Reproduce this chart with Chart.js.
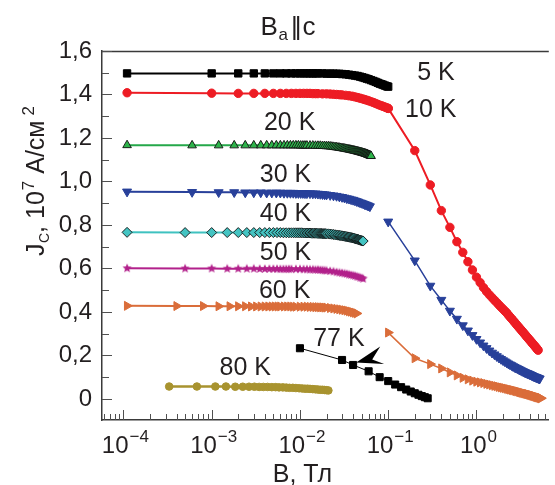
<!DOCTYPE html>
<html><head><meta charset="utf-8">
<script src="https://cdn.jsdelivr.net/npm/chart.js@4.4.1/dist/chart.umd.min.js"></script>
<style>html,body{margin:0;padding:0;background:#fff;}</style>
</head><body>
<canvas id="c" width="555" height="485"></canvas>
<script>
const FONT = '"Liberation Sans", Arial, Helvetica, sans-serif';
const INK = '#231f20';

// ---- axis tick labels ----
const xTickExponents = [-4, -3, -2, -1, 0];
const yTickValues = [0, 0.2, 0.4, 0.6, 0.8, 1.0, 1.2, 1.4, 1.6];
const yTickLabels = ['0', '0,2', '0,4', '0,6', '0,8', '1,0', '1,2', '1,4', '1,6'];

// ---- low-field data (B in T, Jc in 10^7 A/cm^2) ----
const B_5_10 = [0.00011,0.001,0.002,0.003,0.004,0.005,0.006,0.007,0.008,0.009,0.010,0.011,0.012,0.013,0.014,0.015,0.016,0.018,0.020,0.022,0.024,0.026,0.028,0.030,0.033,0.036,0.039,0.042,0.045,0.048,0.051,0.054,0.057,0.060,0.064,0.068,0.072,0.076,0.080,0.084,0.088,0.092,0.096,0.100];
const J_5K = [1.497,1.497,1.497,1.497,1.497,1.497,1.497,1.497,1.497,1.497,1.497,1.497,1.497,1.497,1.497,1.497,1.497,1.497,1.496,1.496,1.496,1.495,1.495,1.494,1.493,1.491,1.489,1.487,1.485,1.482,1.479,1.476,1.473,1.470,1.466,1.462,1.458,1.454,1.450,1.447,1.444,1.441,1.438,1.436];
const J_10K = [1.408,1.406,1.405,1.405,1.405,1.405,1.405,1.405,1.405,1.405,1.405,1.405,1.405,1.405,1.404,1.404,1.404,1.403,1.403,1.402,1.401,1.400,1.399,1.398,1.396,1.394,1.392,1.389,1.386,1.383,1.380,1.377,1.374,1.371,1.367,1.363,1.359,1.355,1.351,1.348,1.345,1.342,1.339,1.336];

const B_20 = [0.00011,0.0006,0.0012,0.0018,0.0024,0.0030,0.0036,0.0042,0.0048,0.0054,0.0060,0.0066,0.0072,0.0078,0.0084,0.0090,0.0096,0.0102,0.0108,0.0114,0.0120,
  0.013,0.014,0.015,0.016,0.017,0.018,0.019,0.020,0.021,0.022,0.023,0.024,0.025,0.026,0.027,0.028,0.029,0.030,0.031,0.032,0.033,0.034,0.035,0.036,0.037,0.038,0.039,0.040,
  0.041,0.042,0.043,0.044,0.045,0.046,0.047,0.048,0.049,0.050,0.051,0.052,0.053,0.054,0.055,0.056,0.057,0.058,0.059,0.060,0.061,0.062,0.063,0.064];
const J_20K = [1.167,1.166,1.166,1.166,1.166,1.166,1.166,1.166,1.166,1.166,1.166,1.166,1.166,1.166,1.166,1.166,1.166,1.165,1.165,1.165,1.165,
  1.165,1.165,1.164,1.164,1.164,1.163,1.163,1.162,1.162,1.161,1.160,1.159,1.158,1.157,1.156,1.155,1.154,1.153,1.152,1.151,1.150,1.149,1.148,1.147,1.146,1.145,1.144,1.143,
  1.142,1.141,1.140,1.139,1.138,1.137,1.136,1.135,1.134,1.133,1.132,1.131,1.130,1.129,1.128,1.127,1.126,1.125,1.123,1.122,1.121,1.120,1.118,1.117];

const B_30 = [0.00011,0.0006,0.0012,0.0018,0.0024,0.0030,0.0036,0.0042,0.0048,0.0054,0.0060,0.0066,0.0072,0.0078,0.0084,0.0090,0.0096,0.0102,0.0108,0.0114,0.0120,0.013,0.014,0.015,0.016,0.017,0.018,0.019,0.020,0.022,0.024,0.026,0.028,0.030,0.032,0.034,0.036,0.038,0.040,0.042,0.044,0.046,0.048,0.050,0.052,0.054,0.056,0.058,0.060,0.062];
const J_30K = [0.953,0.951,0.950,0.950,0.949,0.949,0.949,0.948,0.948,0.948,0.948,0.947,0.947,0.947,0.947,0.946,0.946,0.946,0.946,0.945,0.945,0.945,0.944,0.944,0.943,0.942,0.941,0.940,0.939,0.937,0.935,0.933,0.930,0.928,0.925,0.922,0.920,0.917,0.915,0.912,0.909,0.906,0.903,0.901,0.898,0.895,0.893,0.890,0.888,0.885];

const B_40 = [0.00011,
  0.0005,0.0010,0.0015,0.0020,0.0025,0.0030,0.0035,0.0040,0.0045,0.0050,
  0.0055,0.0060,0.0065,0.0070,0.0075,0.0080,0.0085,0.0090,0.0095,0.0100,
  0.0105,0.0110,0.0115,0.0120,0.0125,0.0130,0.0135,0.0140,0.0145,0.0150,
  0.0155,0.0160,0.0165,0.0170,0.0175,0.0180,0.0185,0.0190,0.0195,0.0200,
  0.021,0.022,0.023,0.024,0.025,0.026,0.027,0.028,0.029,0.030,
  0.031,0.032,0.033,0.034,0.035,0.036,0.037,0.038,0.039,0.040,
  0.041,0.042,0.043,0.044,0.045,0.046,0.047,0.048,0.049,0.050,0.051,0.052];
const J_40K = [0.766,
  0.765,0.765,0.765,0.765,0.765,0.765,0.765,0.765,0.765,0.765,
  0.765,0.765,0.764,0.764,0.764,0.764,0.764,0.764,0.764,0.764,
  0.764,0.763,0.763,0.763,0.763,0.763,0.762,0.762,0.762,0.762,
  0.762,0.761,0.761,0.761,0.761,0.760,0.760,0.760,0.760,0.759,
  0.759,0.758,0.757,0.756,0.755,0.754,0.753,0.752,0.751,0.750,
  0.749,0.748,0.747,0.746,0.745,0.744,0.743,0.742,0.741,0.740,
  0.739,0.737,0.736,0.735,0.734,0.733,0.731,0.730,0.729,0.728,0.727,0.726];

const B_50 = [0.00011,0.0005,0.0010,0.0015,0.0020,0.0025,0.0030,0.0035,0.0040,0.0045,0.0050,0.0055,0.0060,0.0065,0.0070,0.0075,0.0080,0.009,0.010,0.011,0.012,0.013,0.014,0.015,0.016,0.017,0.018,0.019,0.020,0.022,0.024,0.026,0.028,0.030,0.032,0.034,0.036,0.038,0.040,0.042,0.044,0.046,0.048,0.050,0.052];
const J_50K = [0.601,0.600,0.600,0.599,0.599,0.599,0.599,0.598,0.598,0.598,0.598,0.598,0.597,0.597,0.597,0.597,0.597,0.597,0.597,0.596,0.596,0.595,0.595,0.594,0.594,0.593,0.592,0.591,0.590,0.588,0.586,0.583,0.581,0.579,0.577,0.575,0.572,0.570,0.568,0.566,0.563,0.561,0.558,0.556,0.553];

const B_60 = [0.00011,0.0004,0.0008,0.0012,0.0016,0.0020,0.0024,0.0028,0.0032,0.0036,0.0040,0.0044,0.0048,0.0052,0.0056,0.0060,0.0066,0.0072,0.0078,0.0084,0.0090,0.010,0.011,0.012,0.013,0.014,0.015,0.016,0.017,0.018,0.019,0.020,0.022,0.024,0.026,0.028,0.030,0.032,0.034,0.036,0.038,0.040,0.042,0.044];
const J_60K = [0.428,0.427,0.427,0.426,0.426,0.426,0.426,0.425,0.425,0.425,0.425,0.425,0.425,0.425,0.425,0.425,0.425,0.425,0.425,0.424,0.424,0.424,0.424,0.424,0.423,0.423,0.422,0.422,0.421,0.421,0.420,0.420,0.418,0.416,0.414,0.412,0.410,0.408,0.406,0.403,0.401,0.398,0.396,0.393];

const B_77 = [0.01,0.03,0.04,0.06,0.08,0.10,0.12,0.14,0.16,0.18,0.20,0.22,0.24,0.26,0.28];
const J_77K = [0.233,0.179,0.156,0.127,0.100,0.082,0.066,0.054,0.043,0.034,0.026,0.019,0.013,0.008,0.003];

const B_80 = [0.00033,0.00068,0.0011,0.00145,0.00185,0.00225,0.00265,0.00305,0.00345,0.00385,0.0043,0.0048,0.0053,0.0058,0.0064,0.0070,0.0076,0.0083,0.0090,0.0098,0.0106,0.0114,0.0122,0.0130,0.0140,0.0150,0.0160,0.0170,0.0180,0.0190,0.0200,0.0210];
const J_80K = [0.057,0.057,0.057,0.057,0.056,0.056,0.056,0.056,0.055,0.055,0.055,0.054,0.054,0.053,0.053,0.052,0.051,0.051,0.050,0.049,0.048,0.047,0.047,0.046,0.045,0.044,0.043,0.042,0.042,0.041,0.040,0.039];

// ---- high-field data ----
const B_hf = [0.1,0.2,0.3,0.4,0.5,0.6,0.7,0.8,0.9,1.0,1.1,1.2,1.3,1.4,1.5,1.6,1.7,1.8,1.9,2.0,
  2.1,2.2,2.3,2.4,2.5,2.6,2.7,2.8,2.9,3.0,3.1,3.2,3.3,3.4,3.5,3.6,3.7,3.8,3.9,4.0,
  4.1,4.2,4.3,4.4,4.5,4.6,4.7,4.8,4.9,5.0,5.1,5.2,5.3,5.4];
const J_10K_hf = [1.336,1.142,0.984,0.866,0.789,0.723,0.674,0.631,0.593,0.560,0.535,0.512,0.494,0.479,0.466,0.454,0.443,0.432,0.422,0.413,
  0.404,0.396,0.386,0.377,0.369,0.361,0.353,0.345,0.338,0.331,0.324,0.318,0.311,0.305,0.299,0.293,0.287,0.282,0.276,0.271,
  0.266,0.261,0.256,0.251,0.246,0.242,0.237,0.233,0.228,0.224];
const J_30K_hf = [0.815,0.636,0.520,0.455,0.405,0.368,0.338,0.314,0.293,0.275,0.259,0.245,0.233,0.222,0.212,0.204,0.196,0.189,0.183,0.177,
  0.172,0.167,0.162,0.158,0.154,0.150,0.146,0.143,0.140,0.137,0.134,0.131,0.128,0.126,0.123,0.121,0.119,0.117,0.115,0.113,
  0.111,0.109,0.107,0.105,0.103,0.102,0.100,0.099,0.097,0.096,0.094,0.093];
const J_60K_hf = [0.305,0.187,0.160,0.140,0.122,0.108,0.097,0.090,0.084,0.079,0.076,0.073,0.069,0.066,0.063,0.060,0.058,0.055,0.053,0.051,
  0.049,0.047,0.045,0.043,0.041,0.040,0.038,0.036,0.035,0.033,0.031,0.030,0.028,0.027,0.025,0.024,0.023,0.022,0.020,0.019,
  0.018,0.017,0.015,0.014,0.013,0.012,0.010,0.009,0.008,0.007,0.006,0.005,0.004,0.003];

// ---- curve labels (anchored in data coordinates) ----
const curveLabels = ['5 K', '10 K', '20 K', '30 K', '40 K', '50 K', '60 K', '77 K', '80 K'];
const curveLabelB = [0.348, 0.304, 0.00764, 0.00685, 0.00685, 0.00685, 0.00671, 0.0276, 0.0024];
const curveLabelJ = [1.501, 1.333, 1.271, 1.034, 0.854, 0.677, 0.501, 0.2805, 0.147];
const arrowTip = {B: 0.0434, J: 0.167};

// ---- helpers ----
function pts(B, J) { return J.map((y, i) => ({x: B[i], y: y})); }
function starCanvas(color, r) {
  const s = Math.ceil(r * 2 + 2), c = document.createElement('canvas');
  c.width = s; c.height = s;
  const g = c.getContext('2d');
  g.fillStyle = color; g.beginPath();
  for (let i = 0; i < 10; i++) {
    const rr = i % 2 === 0 ? r : r * 0.45, a = -Math.PI / 2 + i * Math.PI / 5;
    g.lineTo(s / 2 + rr * Math.cos(a), s / 2 + rr * Math.sin(a));
  }
  g.closePath(); g.fill();
  return c;
}

const C_RED = '#ed1c24', C_GREEN = '#25a84a', C_BLUE = '#28409a', C_CYAN = '#3fc2c0',
      C_MAG = '#b2218b', C_ORANGE = '#da6d3a', C_OLIVE = '#a8932f';

function ds(label, data, o) {
  return Object.assign({label, data, showLine: true, tension: 0, pointHoverRadius: 0, borderWidth: 2, pointBorderWidth: 1}, o);
}

const datasets = [
  ds('5 K', pts(B_5_10, J_5K), {borderColor: '#000', pointStyle: 'rect', pointRadius: 5.2, pointBackgroundColor: '#000', pointBorderColor: '#000'}),
  ds('10 K', pts(B_5_10, J_10K), {borderColor: C_RED, pointStyle: 'circle', pointRadius: 4.2, pointBackgroundColor: C_RED, pointBorderColor: C_RED}),
  ds('10 K hf', pts(B_hf, J_10K_hf), {borderColor: C_RED, pointStyle: 'circle', pointRadius: 4.2, pointBackgroundColor: C_RED, pointBorderColor: C_RED}),
  ds('20 K', pts(B_20, J_20K), {borderColor: C_GREEN, pointStyle: 'triangle', pointRadius: 5, pointBackgroundColor: '#2db34a', pointBorderColor: '#111', pointBorderWidth: 0.9}),
  ds('30 K', pts(B_30, J_30K), {borderColor: C_BLUE, pointStyle: 'triangle', rotation: 180, pointRadius: 5.2, pointBackgroundColor: C_BLUE, pointBorderColor: C_BLUE}),
  ds('30 K hf', pts(B_hf, J_30K_hf), {borderColor: C_BLUE, borderWidth: 1.5, pointStyle: 'triangle', rotation: 180, pointRadius: 5.2, pointBackgroundColor: C_BLUE, pointBorderColor: C_BLUE}),
  ds('40 K', pts(B_40, J_40K), {borderColor: C_CYAN, pointStyle: 'rectRot', pointRadius: 5, pointBackgroundColor: '#44c4c2', pointBorderColor: '#111', pointBorderWidth: 0.9}),
  ds('50 K', pts(B_50, J_50K), {borderColor: C_MAG, pointStyle: starCanvas(C_MAG, 4.8), pointRadius: 4.8}),
  ds('60 K', pts(B_60, J_60K), {borderColor: C_ORANGE, pointStyle: 'triangle', rotation: 90, pointRadius: 5.2, pointBackgroundColor: C_ORANGE, pointBorderColor: C_ORANGE}),
  ds('60 K hf', pts(B_hf, J_60K_hf), {borderColor: C_ORANGE, borderWidth: 1.5, pointStyle: 'triangle', rotation: 90, pointRadius: 5.2, pointBackgroundColor: C_ORANGE, pointBorderColor: C_ORANGE}),
  ds('77 K', pts(B_77, J_77K), {borderColor: '#000', borderWidth: 1, pointStyle: 'rect', pointRadius: 5, pointBackgroundColor: '#000', pointBorderColor: '#000'}),
  ds('80 K', pts(B_80, J_80K), {borderColor: C_OLIVE, borderWidth: 2.5, pointStyle: 'circle', pointRadius: 3.8, pointBackgroundColor: C_OLIVE, pointBorderColor: C_OLIVE})
];

function drawRuns(ctx, list, x, y, align) {
  let total = 0; const w = [];
  list.forEach(r => { ctx.font = r[1] + 'px ' + FONT; const m = ctx.measureText(r[0]).width; w.push(m); total += m + (r[3] || 0); });
  let cx = align === 'center' ? x - total / 2 : x;
  ctx.textAlign = 'left'; ctx.textBaseline = 'alphabetic';
  list.forEach((r, i) => { cx += (r[3] || 0); ctx.font = r[1] + 'px ' + FONT; ctx.fillText(r[0], cx, y + r[2]); cx += w[i]; });
}

const decor = {
  id: 'decor',
  afterDatasetsDraw(chart) {
    const ctx = chart.ctx, a = chart.chartArea, xs = chart.scales.x, ys = chart.scales.y;
    const seg = (x1, y1, x2, y2) => { ctx.beginPath(); ctx.moveTo(x1, y1); ctx.lineTo(x2, y2); ctx.stroke(); };
    ctx.save();
    ctx.strokeStyle = '#3a3a3a'; ctx.lineWidth = 1.5;
    seg(a.left, a.top + 0.5, a.right, a.top + 0.5);
    ctx.strokeStyle = '#505050'; ctx.lineWidth = 1;
    for (let i = 0; i < yTickValues.length; i++) {
      const py = Math.round(ys.getPixelForValue(yTickValues[i])) + 0.5;
      seg(a.left, py, a.left + 10, py);
      if (i < yTickValues.length - 1) {
        const pm = Math.round(ys.getPixelForValue((yTickValues[i] + yTickValues[i + 1]) / 2)) + 0.5;
        seg(a.left, pm, a.left + 7, pm);
      }
    }
    const e0 = Math.floor(Math.log10(xs.min)), e1 = Math.ceil(Math.log10(xs.max));
    for (let e = e0; e <= e1; e++) for (let k = 1; k < 10; k++) {
      const v = k * Math.pow(10, e);
      if (v < xs.min || v > xs.max) continue;
      const px = Math.round(xs.getPixelForValue(v)) + 0.5;
      seg(px, a.bottom, px, a.bottom - (k === 1 ? 10 : 6));
    }
    // annotation arrow pointing at the 77 K curve
    const tx = xs.getPixelForValue(arrowTip.B), ty = ys.getPixelForValue(arrowTip.J);
    ctx.fillStyle = '#000';
    ctx.beginPath();
    ctx.moveTo(tx, ty); ctx.lineTo(tx + 24, ty - 16); ctx.lineTo(tx + 16, ty - 3); ctx.lineTo(tx + 28, ty + 1.5);
    ctx.closePath(); ctx.fill();
    ctx.restore();
  },
  afterDraw(chart) {
    const ctx = chart.ctx, a = chart.chartArea, xs = chart.scales.x, ys = chart.scales.y;
    ctx.save();
    ctx.fillStyle = INK;
    // x tick labels 10^n
    xTickExponents.forEach(e => {
      const px = xs.getPixelForValue(Math.pow(10, e));
      const sup = e < 0 ? '\u2212' + (-e) : String(e);
      ctx.font = '24px ' + FONT; const wb = ctx.measureText('10').width;
      ctx.font = '17px ' + FONT; const wsu = ctx.measureText(sup).width;
      const x0 = px - (wb + wsu + 1) / 2 + 2;
      ctx.textAlign = 'left'; ctx.textBaseline = 'alphabetic';
      ctx.font = '24px ' + FONT; ctx.fillText('10', x0, a.bottom + 33);
      ctx.font = '17px ' + FONT; ctx.fillText(sup, x0 + wb + 1, a.bottom + 22);
    });
    // x axis title
    drawRuns(ctx, [['B, Тл', 25, 0]], (a.left + a.right) / 2 - 23, a.bottom + 62, 'center');
    // chart title  B_a || c
    drawRuns(ctx, [['B', 26, 0], ['a', 17, 5, 0.5], ['|', 26, 0, 3], ['|', 26, 0, -3], ['c', 26, 0, 1]], a.left + 186, a.top - 16, 'center');
    // y axis title
    ctx.save();
    ctx.translate(44, 181); ctx.rotate(-Math.PI / 2);
    drawRuns(ctx, [['J', 25, 0], ['C', 14, 5, 0.5], [', 10', 25, 0], ['7', 17, -10, 1], [' A/см', 25, 0], ['2', 17, -10, 5]], 0, 0, 'center');
    ctx.restore();
    // curve labels
    ctx.font = '25px ' + FONT; ctx.textAlign = 'center'; ctx.textBaseline = 'middle';
    curveLabels.forEach((t, i) => {
      ctx.fillText(t, xs.getPixelForValue(curveLabelB[i]), ys.getPixelForValue(curveLabelJ[i]) + 1);
    });
    ctx.restore();
  }
};

new Chart(document.getElementById('c'), {
  type: 'line',
  data: {datasets},
  options: {
    responsive: false, animation: false, devicePixelRatio: 1,
    layout: {padding: {top: 51, left: 0, right: 0, bottom: 0}},
    plugins: {legend: {display: false}, tooltip: {enabled: false}, title: {display: false}},
    scales: {
      x: {
        type: 'logarithmic', min: 5.72e-5, max: 6.6,
        grid: {display: false, drawTicks: false},
        border: {display: true, color: '#3a3a3a', width: 1.5},
        ticks: {display: false},
        afterFit: s => { s.height = 65; }
      },
      y: {
        type: 'linear', min: -0.097, max: 1.6,
        grid: {display: false, drawTicks: false},
        border: {display: true, color: '#3a3a3a', width: 1.5},
        afterBuildTicks: s => { s.ticks = yTickValues.map(v => ({value: v})); },
        ticks: {
          padding: 10, color: INK, font: {family: FONT, size: 24},
          callback: (v) => { const i = yTickValues.findIndex(t => Math.abs(t - v) < 1e-9); return i >= 0 ? yTickLabels[i] : ''; }
        },
        afterFit: s => { s.width = 102; }
      }
    }
  },
  plugins: [decor]
});
</script>
</body></html>
